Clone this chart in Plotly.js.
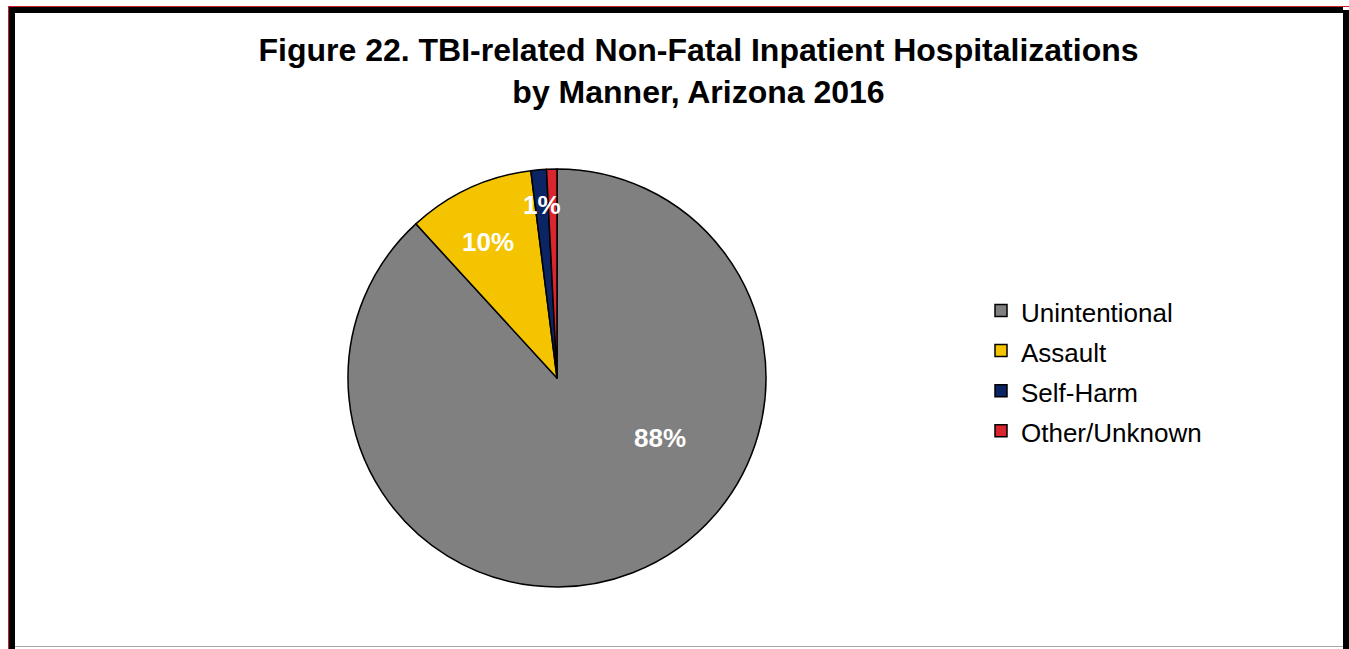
<!DOCTYPE html>
<html>
<head>
<meta charset="utf-8">
<script src="https://cdn.plot.ly/plotly-3.0.1.min.js"></script>
<style>
  html, body { margin: 0; padding: 0; background: #fff; }
  #wrap { position: relative; width: 1349px; height: 649px; overflow: hidden; }
  #chart { position: absolute; left: 0; top: 0; width: 1349px; height: 649px; }
  .bd { position: absolute; pointer-events: none; }
</style>
</head>
<body>
<div id="wrap">
  <div id="chart"></div>
  <div class="bd" style="left:8px; top:6px; width:1342px; height:1px; background:#d01c24;"></div>
  <div class="bd" style="left:8px; top:6px; width:1px; height:643px; background:#d01c24;"></div>
  <div class="bd" style="left:9px; top:7px; width:1334px; height:6px; background:#000;"></div>
  <div class="bd" style="left:9px; top:7px; width:6px; height:642px; background:#000;"></div>
  <div class="bd" style="left:1343px; top:10px; width:6px; height:639px; background:#000;"></div>
  <div class="bd" style="left:15px; top:646px; width:1328px; height:1px; background:#a6a6a6;"></div>
</div>
<script>
// ---- data ----
var categories = ["Unintentional", "Assault", "Self-Harm", "Other/Unknown"];
var shares = [88.2, 9.8, 1.2, 0.8];           // percent of hospitalizations
var sliceColors = ["#808080", "#F5C400", "#0B2464", "#D9262E"];
var showLabel = [true, true, true, false];

// ---- geometry (pixels) ----
var W = 1349, H = 649;
var cx = 557, cy = 378, R = 209;

var total = shares.reduce(function (a, b) { return a + b; }, 0);

// label placement (angle measured clockwise from 12 o'clock; fraction of radius)
var labelPlace = [
  { angle: 120, frac: 0.57 },
  { angle: -27, frac: 0.73 },
  { angle: null, frac: 0.83 },
  { angle: null, frac: 0.83 }
];

var annotations = [];
var cum = 0;
for (var i = 0; i < shares.length; i++) {
  var start = cum / total * 360;
  cum += shares[i];
  var end = cum / total * 360;
  var mid = (start + end) / 2;
  var ang = labelPlace[i].angle !== null ? labelPlace[i].angle : mid;
  var rad = ang * Math.PI / 180;
  var px = cx + labelPlace[i].frac * R * Math.sin(rad);
  var py = cy - labelPlace[i].frac * R * Math.cos(rad);
  if (showLabel[i]) {
    annotations.push({
      text: Math.round(shares[i] / total * 100) + "%",
      x: px / W, y: 1 - py / H, xref: "paper", yref: "paper",
      xanchor: "center", yanchor: "middle", showarrow: false,
      font: { family: "Liberation Sans, Arial, sans-serif", size: 26, color: "#ffffff", weight: "bold" }
    });
  }
}

var legendLabels = categories.map(function (c) {
  return '<span style="font-size:26px">' + c + '</span>';
});

var trace = {
  type: "pie",
  labels: legendLabels,
  values: shares,
  sort: false,
  direction: "clockwise",
  rotation: 0,
  textinfo: "none",
  hoverinfo: "label+percent",
  marker: { colors: sliceColors, line: { color: "#000000", width: 1.5 } },
  domain: { x: [(cx - R) / W, (cx + R) / W], y: [1 - (cy + R) / H, 1 - (cy - R) / H] }
};

var layout = {
  width: W, height: H,
  margin: { l: 0, r: 0, t: 0, b: 0 },
  paper_bgcolor: "#ffffff",
  plot_bgcolor: "#ffffff",
  title: {
    text: "<b>Figure 22. TBI-related Non-Fatal Inpatient Hospitalizations<br>by Manner, Arizona 2016</b>",
    font: { family: "Liberation Sans, Arial, sans-serif", size: 32, color: "#000000" },
    x: 698.5 / W, xanchor: "center",
    y: 1 - 61 / H, yanchor: "middle", yref: "paper"
  },
  showlegend: true,
  legend: {
    x: 981 / W, xanchor: "left",
    y: 1 - 371 / H, yanchor: "middle",
    font: { family: "Liberation Sans, Arial, sans-serif", size: 28.5, color: "#000000" },
    bgcolor: "rgba(0,0,0,0)",
    traceorder: "normal"
  },
  annotations: annotations
};

Plotly.newPlot("chart", [trace], layout, { displayModeBar: false, staticPlot: true });
</script>
</body>
</html>
